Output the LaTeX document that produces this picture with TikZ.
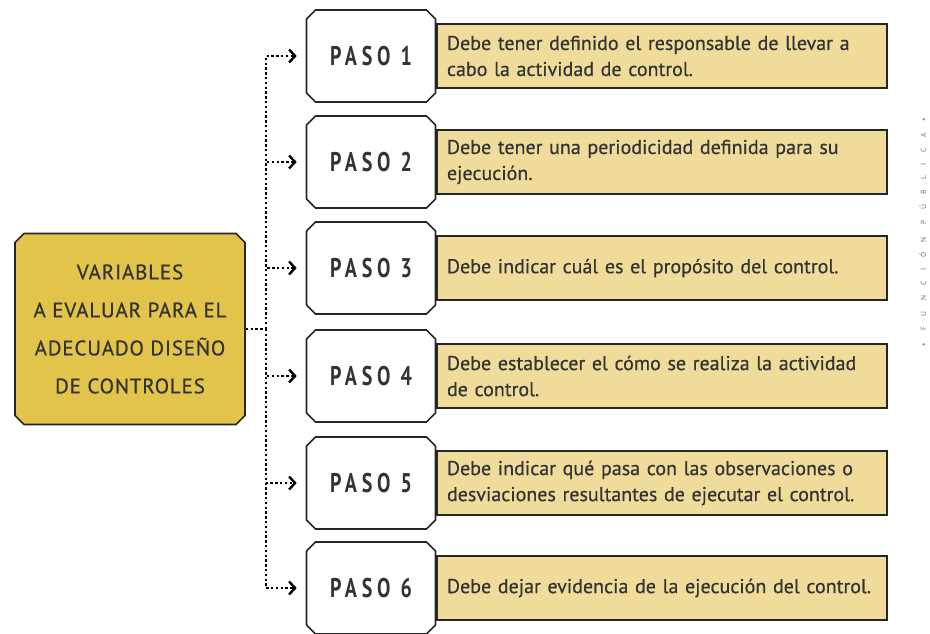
\documentclass[tikz,border=0pt]{standalone}
\usepackage{fontspec}
\setmainfont{PT Sans}[FakeBold=0.5]
\newfontfamily\pasofont[FakeStretch=0.74,LetterSpace=18]{PT Sans Bold}
\newfontfamily\titfont[LetterSpace=4,FakeBold=0.6]{PT Sans}
\newfontfamily\marcafont[LetterSpace=140]{PT Sans}
\usetikzlibrary{shapes.misc,arrows.meta}
\definecolor{oro}{HTML}{E3C44B}
\definecolor{crema}{HTML}{F0DC9A}
\definecolor{tinta}{HTML}{333333}
\begin{document}
\begin{tikzpicture}[x=1pt,y=-1pt,
    octa/.style={chamfered rectangle,chamfered rectangle xsep=4.5pt,chamfered rectangle ysep=4.5pt,
      draw=black!85,line width=1.6pt,inner sep=0pt},
    paso/.style={octa,fill=white,minimum width=129pt,minimum height=92pt,
      text=tinta,font=\pasofont\fontsize{27}{30}\selectfont},
    nota/.style={draw=black!85,line width=1.4pt,fill=crema,anchor=west,text width=430pt,
      inner xsep=10pt,minimum height=64pt,align=left,text=tinta,
      font=\fontsize{20}{26}\selectfont\hyphenpenalty10000\relax},
    puntos/.style={line width=2.8pt,dash pattern=on 2.4pt off 2.4pt},
    flecha/.style={puntos,-{Straight Barb[length=6pt,width=13pt,line width=2.4pt]},shorten >=9pt}]
  \useasboundingbox (0,0) rectangle (930,633);

  \node[octa,fill=oro,minimum width=230pt,minimum height=191pt,align=center,text=tinta,
    font=\titfont\fontsize{21}{38}\selectfont] (variables) at (130,329)
    {VARIABLES\\A EVALUAR PARA EL\\ADECUADO DISEÑO\\DE CONTROLES};

  \node[paso] (p1) at (371,56) {PASO 1};
  \node[paso] (p2) at (371,162) {PASO 2};
  \node[paso] (p3) at (371,268) {PASO 3};
  \node[paso] (p4) at (371,376) {PASO 4};
  \node[paso] (p5) at (371,483) {PASO 5};
  \node[paso] (p6) at (371,588) {PASO 6};

  \node[nota] (n1) at (p1.east) {Debe tener definido el responsable de llevar a\\cabo la actividad de control.};
  \node[nota] (n2) at (p2.east) {Debe tener una periodicidad definida para su\\ejecución.};
  \node[nota] (n3) at (p3.east) {Debe indicar cuál es el propósito del control.};
  \node[nota] (n4) at (p4.east) {Debe establecer el cómo se realiza la actividad\\de control.};
  \node[nota] (n5) at (p5.east) {Debe indicar qué pasa con las observaciones o\\desviaciones resultantes de ejecutar el control.};
  \node[nota] (n6) at (p6.east) {Debe dejar evidencia de la ejecución del control.};

  % conectores punteados
  \coordinate (eje) at (266,329);
  \draw[puntos] (variables.east) -- (eje);
  \draw[flecha] (eje) |- (p1.west);
  \draw[flecha] (eje) |- (p2.west);
  \draw[flecha] (eje) |- (p3.west);
  \draw[flecha] (eje) |- (p4.west);
  \draw[flecha] (eje) |- (p5.west);
  \draw[flecha] (eje) |- (p6.west);

  \node[rotate=90,text=black!55,inner sep=0pt,font=\marcafont\fontsize{7.5}{8}\selectfont] (marca) at (923,232)
    {\textbullet\ FUNCIÓN PÚBLICA \textbullet};
\end{tikzpicture}
\end{document}
